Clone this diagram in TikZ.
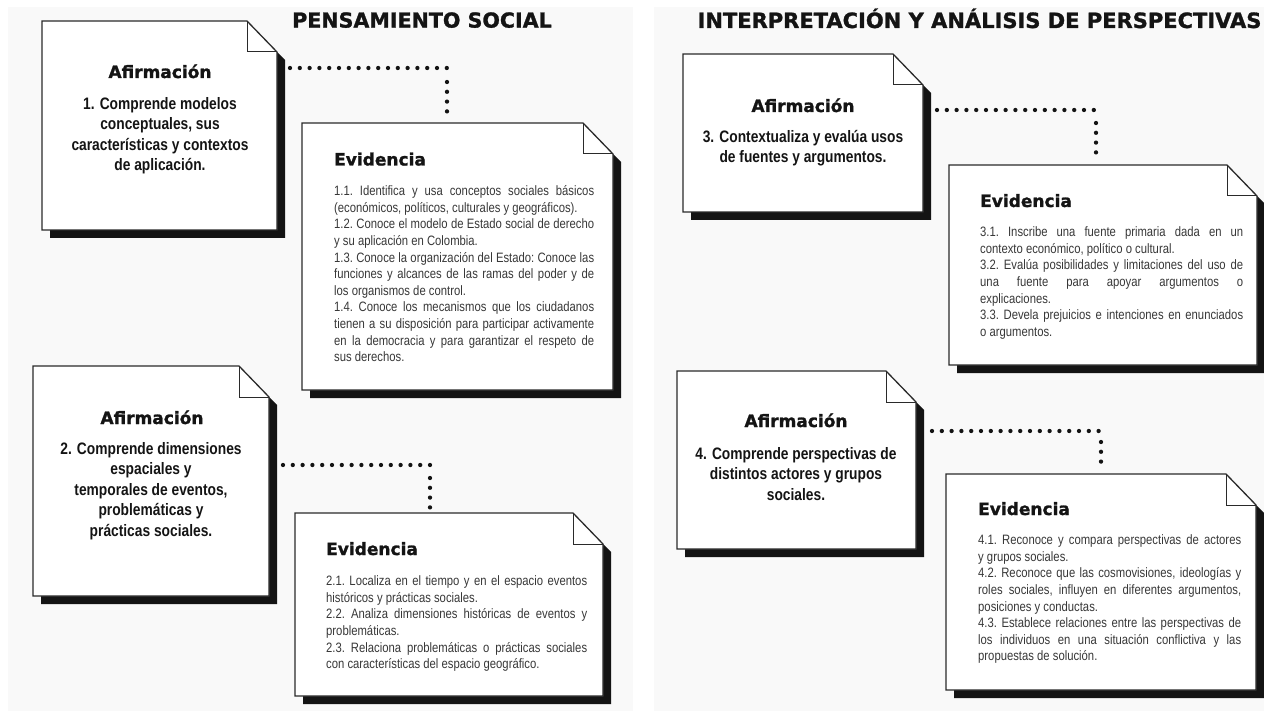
\documentclass[tikz,border=0pt]{standalone}
\usepackage{fontspec}
\setmainfont{Liberation Sans}
\newfontfamily\headfont{DejaVu Sans}[BoldFeatures={FakeBold=1.3}]
\newfontfamily\afirmfont{Liberation Sans}[FakeStretch=0.83]
\newfontfamily\evfont{Liberation Sans}[FakeStretch=0.83]
\usetikzlibrary{calc}
\definecolor{panelbg}{HTML}{F9F9F9}
\definecolor{ink}{HTML}{141414}
\definecolor{evink}{HTML}{383838}
\definecolor{cardedge}{HTML}{2A2A2A}
\tikzset{
  cardarea/.style={inner sep=0pt, outer sep=0pt, draw=none},
  cardline/.style={draw=cardedge, line width=1.3pt, fill=white, line join=miter},
  foldline/.style={draw=cardedge, line width=1pt},
  shadowfill/.style={fill=ink},
  dotline/.style={draw=ink, line width=4.3pt, line cap=round, dash pattern=on 0pt off 9.8pt},
  bigtitle/.style={font=\headfont\bfseries\fontsize{20.6}{24}\selectfont, text=ink, inner sep=0pt, anchor=base},
  bigtitlewide/.style={bigtitle, font=\headfont\bfseries\fontsize{21}{24}\selectfont},
  cardhead/.style={font=\headfont\bfseries\fontsize{17}{20}\selectfont, text=ink, inner sep=0pt},
  afirmbody/.style={font=\afirmfont\bfseries\fontsize{16.6}{20.5}\selectfont, text=ink, inner sep=0pt, align=center, anchor=north},
  evbody/.style={font=\evfont\fontsize{13.6}{16.6}\selectfont, text=evink, inner sep=0pt, align=justify, anchor=north west,
    execute at begin node={\frenchspacing\tolerance=10000\hyphenpenalty=10000\parindent=0pt\parskip=0pt}},
}
\newcommand{\notecard}[5]{%
  \node[cardarea, minimum width={(#4)-(#2)}, minimum height={(#5)-(#3)}] (#1) at ({((#2)+(#4))/2},{((#3)+(#5))/2}) {};
  \fill[shadowfill] ($(#1.north east)+(0,31)$) -- ++(8,8) -- ($(#1.south east)+(8,8)$) -- ($(#1.south west)+(8,8)$) -- ($(#1.south west)+(8,0)$) -- cycle;
  \draw[cardline] (#1.north west) -- ($(#1.north east)+(-30,0)$) -- ($(#1.north east)+(0,31)$) -- (#1.south east) -- (#1.south west) -- cycle;
  \draw[foldline] ($(#1.north east)+(-30,0)$) -- ($(#1.north east)+(-30,31)$) -- ($(#1.north east)+(0,31)$);
}
\begin{document}
\begin{tikzpicture}[x=1pt,y=-1pt]
\useasboundingbox (0,0) rectangle (1264,711);
\fill[white] (0,0) rectangle (1264,711);
\fill[panelbg] (8,7) rectangle (633,711);
\fill[panelbg] (654,7) rectangle (1264,711);

\node[bigtitle] (t1) at (422,27.6) {PENSAMIENTO SOCIAL};
\node[bigtitlewide] (t2) at (979.5,28) {INTERPRETACIÓN Y ANÁLISIS DE PERSPECTIVAS};

\notecard{a1}{42}{21}{277}{230}
\notecard{e1}{302}{123}{613}{390}
\notecard{a2}{33}{366}{269}{596}
\notecard{e2}{295}{513}{603}{696}
\notecard{a3}{683}{54}{923}{212}
\notecard{e3}{949}{165}{1257}{365}
\notecard{a4}{677}{371}{916}{549}
\notecard{e4}{946}{474}{1256}{690}

% Afirmaciones
\node[cardhead, anchor=base] (a1h) at (160,78) {Afirmación};
\node[afirmbody] (a1b) at (160,94) {\rule{0pt}{15pt}1. Comprende modelos\\conceptuales, sus\\características y contextos\\de aplicación.};
\node[cardhead, anchor=base] (a2h) at (152,424) {Afirmación};
\node[afirmbody] (a2b) at (151,439) {\rule{0pt}{15pt}2. Comprende dimensiones\\espaciales y\\temporales de eventos,\\problemáticas y\\prácticas sociales.};
\node[cardhead, anchor=base] (a3h) at (803,112) {Afirmación};
\node[afirmbody] (a3b) at (803,127) {\rule{0pt}{15pt}3. Contextualiza y evalúa usos\\de fuentes y argumentos.};
\node[cardhead, anchor=base] (a4h) at (796,427) {Afirmación};
\node[afirmbody] (a4b) at (796,444) {\rule{0pt}{15pt}4. Comprende perspectivas de\\distintos actores y grupos\\sociales.};

% Evidencias
\node[cardhead, anchor=base west] (e1h) at (334,165.5) {Evidencia};
\node[evbody, text width=260pt] (e1b) at (334,183.5) {\rule{0pt}{12pt}1.1. Identifica y usa conceptos sociales básicos\linebreak (económicos, políticos, culturales y geográficos).\par
1.2. Conoce el modelo de Estado social de derecho\linebreak y su aplicación en Colombia.\par
1.3. Conoce la organización del Estado: Conoce las\linebreak funciones y alcances de las ramas del poder y de\linebreak los organismos de control.\par
1.4. Conoce los mecanismos que los ciudadanos\linebreak tienen a su disposición para participar activamente\linebreak en la democracia y para garantizar el respeto de\linebreak sus derechos.};

\node[cardhead, anchor=base west] (e2h) at (326,555) {Evidencia};
\node[evbody, text width=261pt] (e2b) at (326,573.5) {\rule{0pt}{12pt}2.1. Localiza en el tiempo y en el espacio eventos\linebreak históricos y prácticas sociales.\par
2.2. Analiza dimensiones históricas de eventos y\linebreak problemáticas.\par
2.3. Relaciona problemáticas o prácticas sociales\linebreak con características del espacio geográfico.};

\node[cardhead, anchor=base west] (e3h) at (980,207) {Evidencia};
\node[evbody, text width=263pt] (e3b) at (980,224.5) {\rule{0pt}{12pt}3.1. Inscribe una fuente primaria dada en un\linebreak contexto económico, político o cultural.\par
3.2. Evalúa posibilidades y limitaciones del uso de\linebreak una fuente para apoyar argumentos o\linebreak explicaciones.\par
3.3. Devela prejuicios e intenciones en enunciados\linebreak o argumentos.};

\node[cardhead, anchor=base west] (e4h) at (978,515) {Evidencia};
\node[evbody, text width=263pt] (e4b) at (978,532.5) {\rule{0pt}{12pt}4.1. Reconoce y compara perspectivas de actores\linebreak y grupos sociales.\par
4.2. Reconoce que las cosmovisiones, ideologías y\linebreak roles sociales, influyen en diferentes argumentos,\linebreak posiciones y conductas.\par
4.3. Establece relaciones entre las perspectivas de\linebreak los individuos en una situación conflictiva y las\linebreak propuestas de solución.};

% Conectores punteados
\coordinate (k1) at (447,68);
\draw[dotline] ($(a1.east |- k1)+(13,0)$) -- (k1);
\draw[dotline] ($(k1)+(0,14)$) -- ($(e1.north -| k1)+(0,-11)$);
\coordinate (k2) at (430,465);
\draw[dotline] ($(a2.east |- k2)+(14,0)$) -- (k2);
\draw[dotline] ($(k2)+(0,13)$) -- ($(e2.north -| k2)+(0,-3)$);
\coordinate (k3) at (1096,110);
\draw[dotline] ($(a3.east |- k3)+(14,0)$) -- (k3);
\draw[dotline] ($(k3)+(0,13)$) -- ($(e3.north -| k3)+(0,-11)$);
\coordinate (k4) at (1101,431);
\draw[dotline] ($(a4.east |- k4)+(16,0)$) -- (k4);
\draw[dotline] ($(k4)+(0,11)$) -- ($(e4.north -| k4)+(0,-12)$);
\end{tikzpicture}
\end{document}
